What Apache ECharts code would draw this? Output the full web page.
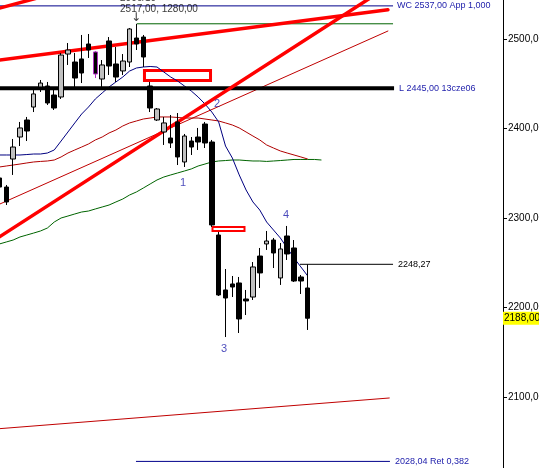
<!DOCTYPE html>
<html>
<head>
<meta charset="utf-8">
<script src="https://cdn.jsdelivr.net/npm/echarts@6/dist/echarts.min.js"></script>
<style>
html, body { margin: 0; padding: 0; background: #fff; }
#chart { width: 539px; height: 468px; }
</style>
</head>
<body>
<div id="chart"></div>
<script>
// Daily candles, oldest first: [open, close, low, high]
const candles = [
  [2344.7, 2334.6, 2331.3, 2348.1],
  [2334.6, 2317.9, 2314.5, 2336.9],
  [2365.9, 2379.3, 2348.1, 2388.3],
  [2390.5, 2400.6, 2380.4, 2407.3],
  [2409.5, 2397.2, 2386.0, 2412.9],
  [2424.0, 2438.6, 2418.4, 2445.3],
  [2446.4, 2450.8, 2440.8, 2454.2],
  [2447.5, 2428.5, 2426.3, 2452.0],
  [2437.4, 2422.9, 2420.7, 2445.3],
  [2435.2, 2482.1, 2433.0, 2484.4],
  [2483.2, 2487.7, 2471.0, 2495.5],
  [2474.3, 2456.4, 2446.4, 2484.4],
  [2477.7, 2462.0, 2450.8, 2504.5],
  [2494.4, 2487.7, 2478.8, 2505.6],
  [2485.5, 2460.9, 2456.4, 2486.6],
  [2455.3, 2471.0, 2446.4, 2476.5],
  [2497.8, 2469.8, 2459.8, 2502.2],
  [2472.1, 2457.5, 2452.0, 2491.1],
  [2464.3, 2475.4, 2459.8, 2483.2],
  [2474.3, 2511.2, 2468.7, 2512.3],
  [2501.1, 2494.4, 2487.7, 2517.0],
  [2502.2, 2479.9, 2468.7, 2504.5],
  [2447.5, 2422.9, 2418.4, 2452.0],
  [2409.5, 2421.8, 2408.4, 2422.9],
  [2396.1, 2406.2, 2381.6, 2412.9],
  [2389.4, 2383.8, 2378.2, 2415.1],
  [2407.3, 2368.2, 2359.2, 2417.3],
  [2362.6, 2391.6, 2357.0, 2393.9],
  [2386.0, 2379.3, 2370.4, 2390.5],
  [2390.5, 2384.9, 2376.0, 2400.6],
  [2405.0, 2383.8, 2378.2, 2407.3],
  [2384.9, 2292.2, 2290.0, 2387.2],
  [2281.0, 2214.0, 2212.9, 2284.4],
  [2219.6, 2210.6, 2167.0, 2243.0],
  [2226.3, 2222.9, 2211.7, 2235.2],
  [2227.4, 2187.2, 2171.5, 2234.1],
  [2209.5, 2207.3, 2191.6, 2219.6],
  [2211.7, 2245.3, 2208.4, 2250.8],
  [2257.5, 2238.6, 2221.8, 2266.5],
  [2271.0, 2274.3, 2264.3, 2285.5],
  [2275.4, 2260.9, 2244.1, 2277.7],
  [2233.0, 2265.4, 2225.2, 2272.1],
  [2279.9, 2259.8, 2253.1, 2291.1],
  [2266.5, 2229.6, 2228.5, 2275.4],
  [2234.1, 2229.6, 2215.1, 2236.3],
  [2221.8, 2188.0, 2174.9, 2248.27]
];
// index of the highlighted candle
const markedCandle = 14;

// Moving averages (one value per candle)
const maFast = [2370.4, 2370.4, 2370.4, 2370.4, 2370.9, 2371.5, 2371.5, 2372.6, 2376.0, 2386.0,
  2396.1, 2406.2, 2416.2, 2424.0, 2433.0, 2439.7, 2446.4, 2452.0, 2457.5, 2464.2,
  2467.6, 2468.7, 2469.3, 2468.7, 2463.1, 2457.5, 2453.1, 2447.5, 2441.9, 2435.2,
  2427.4, 2418.4, 2407.3, 2380.4, 2367.0, 2348.1, 2331.3, 2317.9, 2308.9, 2295.5,
  2286.6, 2277.7, 2266.5, 2255.3, 2245.3, 2235.2];
const maMid = [2357.0, 2358.1, 2359.2, 2360.3, 2361.5, 2362.6, 2363.2, 2363.7, 2364.8, 2368.2,
  2372.6, 2376.0, 2379.3, 2382.7, 2387.2, 2390.5, 2395.0, 2398.3, 2402.8, 2406.2,
  2408.4, 2410.6, 2411.7, 2412.9, 2412.9, 2412.9, 2412.3, 2411.7, 2411.7, 2411.7,
  2410.6, 2409.5, 2408.4, 2406.2, 2403.9, 2400.6, 2396.1, 2391.6, 2387.2, 2381.6,
  2378.2, 2374.9, 2372.6, 2370.4, 2368.2, 2365.9];
const maSlow = [2271.0, 2273.2, 2275.4, 2278.8, 2281.0, 2283.2, 2285.5, 2288.8, 2295.5, 2300.0,
  2302.2, 2304.5, 2306.7, 2307.8, 2310.1, 2312.3, 2314.5, 2317.9, 2321.2, 2325.7,
  2329.1, 2333.5, 2338.0, 2342.5, 2345.8, 2348.1, 2350.3, 2352.5, 2354.8, 2358.1,
  2360.3, 2362.6, 2363.7, 2364.2, 2364.8, 2364.8, 2364.2, 2363.7, 2363.7, 2363.2,
  2363.7, 2364.2, 2364.8, 2365.4, 2365.4, 2365.4, 2365.4, 2364.8];

// Trend lines: [bar index, price] end points
const trendUpper = [[-1.0, 2475.5], [56.7, 2532.7]];
const trendSteep = [[-1.0, 2274.0], [55.6, 2553.1]];
const trendCorner = [[-0.94, 2532.5], [5.92, 2546.6]];
const trendThin = [[-1.0, 2312.0], [56.7, 2508.9]];
const trendLow = [[-1.0, 2064.0], [56.9, 2098.9]];

// Horizontal levels: [from index, to index, price]
const levelWC = [-1.0, 57.45, 2537.00];
const levelTop = [20.08, 57.45, 2517.0];
const levelL = [-1.0, 57.6, 2445.00];
const levelLast = [43.87, 57.45, 2248.27];
const levelRet = [19.93, 57.0, 2028.04];

// Boxes: [x1, x2, price1, price2]
const boxUpper = [21.17, 30.81, 2464.8, 2453.6];
const boxLower = [31.1, 35.77, 2290.0, 2285.5];

// Wave labels: [index, price, text]
const waves = [[26.79, 2339.1, '1'], [31.76, 2427.4, '2'], [32.78, 2153.7, '3'], [41.83, 2303.4, '4']];

const lastPrice = 2188.00;
const slotCount = 74;
const slots = Array.from({ length: slotCount }, (_, i) => String(i));
const yTickStep = 100;

const FONT = '"Liberation Sans", Arial, sans-serif';
const NAVY = '#1c1caa';
const fmt = v => v.toFixed(2).replace('.', ',');

function hline(level, color, width, text, textColor, dist) {
  return {
    type: 'line', xAxisIndex: 1, yAxisIndex: 0, z: 2,
    data: [[level[0], level[2]], [level[1], level[2]]],
    symbol: 'none', silent: true,
    lineStyle: { color: color, width: width },
    endLabel: text ? { show: true, formatter: text, color: textColor, fontSize: 9,
      fontFamily: FONT, distance: dist } : { show: false }
  };
}
function tline(pts, color, width) {
  return {
    type: 'line', xAxisIndex: 1, yAxisIndex: 0, z: 2,
    data: pts, symbol: 'none', silent: true,
    lineStyle: { color: color, width: width, cap: 'round' }
  };
}
function box(b, w) {
  return [{ coord: [b[0], b[2]], itemStyle: { borderWidth: w } }, { coord: [b[1], b[3]] }];
}

const candleData = candles.map((c, i) => i === markedCandle
  ? { value: c, itemStyle: { borderColor0: '#b030c0', borderColor: '#b030c0' } }
  : c);

const chart = echarts.init(document.getElementById('chart'), null, { renderer: 'canvas' });
chart.setOption({
  animation: false,
  backgroundColor: '#fff',
  grid: { left: -4, right: 36, top: -50.5, bottom: -18.5, containLabel: false, outerBoundsMode: 'none' },
  xAxis: [
    { type: 'category', data: slots, boundaryGap: true, show: false },
    { type: 'value', min: -0.5, max: slotCount - 0.5, show: false }
  ],
  yAxis: [{
    type: 'value', position: 'right', min: 2000, max: 2600, interval: yTickStep,
    axisLine: { show: true, onZero: false, lineStyle: { color: '#000', width: 1 } },
    axisTick: { show: true, length: 4, lineStyle: { color: '#000' } },
    splitLine: { show: false },
    axisLabel: { formatter: fmt, color: '#000', fontSize: 10, fontFamily: FONT, margin: 5 }
  }],
  series: [
    tline(trendLow, '#c00000', 1),
    tline(trendThin, '#c00000', 1),
    { type: 'line', data: maSlow, xAxisIndex: 0, symbol: 'none', silent: true, z: 2,
      lineStyle: { color: '#006400', width: 1 } },
    { type: 'line', data: maMid, xAxisIndex: 0, symbol: 'none', silent: true, z: 2,
      lineStyle: { color: '#b00000', width: 1 } },
    { type: 'line', data: maFast, xAxisIndex: 0, symbol: 'none', silent: true, z: 2,
      lineStyle: { color: '#000080', width: 1 } },
    hline(levelWC, '#00008b', 1, 'WC 2537,00 App 1,000', NAVY, 4),
    hline(levelTop, '#006400', 1, null),
    hline(levelLast, '#000', 1, '2248,27', '#000', 5),
    hline(levelRet, '#00008b', 1, '2028,04 Ret 0,382', NAVY, 5),
    hline(levelL, '#000', 4, 'L 2445,00 13cze06', NAVY, 5),
    tline(trendUpper, '#ff0000', 3.5),
    tline(trendSteep, '#ff0000', 3.5),
    tline(trendCorner, '#ff0000', 3.5),
    {
      type: 'candlestick', xAxisIndex: 0, yAxisIndex: 0, z: 3,
      data: candleData, barWidth: 5, silent: true,
      itemStyle: { color: '#c0c0c0', color0: '#000', borderColor: '#000', borderColor0: '#000', borderWidth: 1 },
      markLine: {
        silent: true, symbol: 'none',
        lineStyle: { color: 'rgba(0,0,0,0)', width: 0 },
        data: [{ yAxis: lastPrice }],
        label: { show: true, position: 'end', formatter: fmt(lastPrice), color: '#000', backgroundColor: '#ffff00',
          fontSize: 10, fontFamily: FONT, padding: [2, 2, 1, 1], distance: 0 }
      }
    },
    {
      type: 'line', xAxisIndex: 1, yAxisIndex: 0, data: [], z: 4,
      markArea: {
        silent: true,
        itemStyle: { color: 'rgba(255,255,255,0)', borderColor: '#ff0000', borderWidth: 3 },
        data: [box(boxUpper, 3), box(boxLower, 2)]
      }
    },
    {
      type: 'scatter', xAxisIndex: 1, yAxisIndex: 0, symbolSize: 0, silent: true, z: 5, clip: false,
      data: waves.map(w => ({ value: [w[0], w[1]],
        label: { show: true, position: 'inside', formatter: w[2], color: NAVY, fontSize: 11, fontFamily: FONT } }))
        .concat([
          { value: [17.6, 2539.1], label: { show: true, position: 'right', distance: 0,
              formatter: '2006/10\n2517,00, 1280,00', color: '#000', fontSize: 10, lineHeight: 11, fontFamily: FONT } },
          { value: [19.93, 2524.0], label: { show: true, position: 'inside', formatter: '\u2193',
              color: '#000', fontSize: 12, fontFamily: '"DejaVu Sans", sans-serif' } }
        ])
    }
  ]
});
</script>
</body>
</html>
